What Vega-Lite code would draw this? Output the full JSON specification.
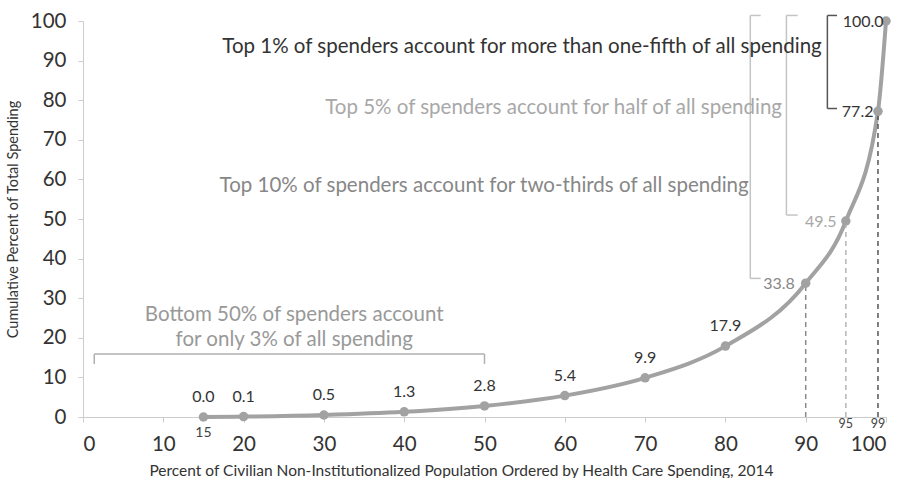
{
  "$schema": "https://vega.github.io/schema/vega-lite/v6.json",
  "width": 803,
  "height": 396,
  "autosize": "none",
  "padding": {"left": 83, "top": 21, "right": 18, "bottom": 61},
  "background": "white",
  "config": {
    "font": "Lato",
    "view": {"stroke": null},
    "axis": {
      "grid": false,
      "domainColor": "#cccccc",
      "tickColor": "#cccccc",
      "tickSize": 5,
      "labelColor": "#333333",
      "labelFontSize": 20.5,
      "labelOverlap": false,
      "titleColor": "#333333",
      "titleFontSize": 14.5,
      "titleFontWeight": "normal"
    }
  },
  "datasets": {
    "curve": [
      {"x": 15, "y": 0.0, "lab": "0.0"},
      {"x": 20, "y": 0.1, "lab": "0.1"},
      {"x": 30, "y": 0.5, "lab": "0.5"},
      {"x": 40, "y": 1.3, "lab": "1.3"},
      {"x": 50, "y": 2.8, "lab": "2.8"},
      {"x": 60, "y": 5.4, "lab": "5.4"},
      {"x": 70, "y": 9.9, "lab": "9.9"},
      {"x": 80, "y": 17.9, "lab": "17.9"},
      {"x": 90, "y": 33.8, "lab": "33.8"},
      {"x": 95, "y": 49.5, "lab": "49.5"},
      {"x": 99, "y": 77.2, "lab": "77.2"},
      {"x": 100, "y": 100.0, "lab": "100.0"}
    ],
    "drops": [
      {"x": 90, "y": 0, "y2": 33.8, "grp": "d90"},
      {"x": 95, "y": 0, "y2": 49.5, "grp": "d95"},
      {"x": 99, "y": 0, "y2": 77.2, "grp": "d99"}
    ],
    "brackets": [
      {"x": 92.7, "x2": 92.7, "y": 77.9, "y2": 101.4, "grp": "top1"},
      {"x": 92.7, "x2": 93.9, "y": 101.4, "y2": 101.4, "grp": "top1"},
      {"x": 92.7, "x2": 93.9, "y": 77.9, "y2": 77.9, "grp": "top1"},
      {"x": 87.6, "x2": 87.6, "y": 51.0, "y2": 101.4, "grp": "top5"},
      {"x": 87.6, "x2": 89.0, "y": 101.4, "y2": 101.4, "grp": "top5"},
      {"x": 87.6, "x2": 89.0, "y": 51.0, "y2": 51.0, "grp": "top5"},
      {"x": 83.1, "x2": 83.1, "y": 35.0, "y2": 101.4, "grp": "top10"},
      {"x": 83.1, "x2": 84.4, "y": 101.4, "y2": 101.4, "grp": "top10"},
      {"x": 83.1, "x2": 84.4, "y": 35.0, "y2": 35.0, "grp": "top10"},
      {"x": 1.4, "x2": 50, "y": 15.9, "y2": 15.9, "grp": "bottom"},
      {"x": 1.4, "x2": 1.4, "y": 13.4, "y2": 15.9, "grp": "bottom"},
      {"x": 50, "x2": 50, "y": 13.4, "y2": 15.9, "grp": "bottom"}
    ],
    "blabels": [
      {"x": 94.6, "y": 100.0, "label": "100.0", "grp": "top1"},
      {"x": 94.5, "y": 77.2, "label": "77.2", "grp": "top1"},
      {"x": 89.9, "y": 49.5, "label": "49.5", "grp": "top5"},
      {"x": 84.7, "y": 33.8, "label": "33.8", "grp": "top10"}
    ],
    "notes": [
      {"x": 92.0, "y": 93.4, "label": "Top 1% of spenders account for more than one-fifth of all spending", "grp": "top1"},
      {"x": 87.05, "y": 78.0, "label": "Top 5% of spenders account for half of all spending", "grp": "top5"},
      {"x": 82.9, "y": 58.3, "label": "Top 10% of spenders account for two-thirds of all spending", "grp": "top10"}
    ],
    "bnotes": [
      {"x": 26.3, "y": 25.7, "label": "Bottom 50% of spenders account"},
      {"x": 26.3, "y": 19.4, "label": "for only 3% of all spending"}
    ],
    "xlabs15": [{"x": 15, "y": 0, "label": "15"}],
    "xlabsTop": [{"x": 95, "y": 0, "label": "95"}, {"x": 99, "y": 0, "label": "99"}]
  },
  "layer": [
    {
      "data": {"name": "curve"},
      "mark": {"type": "line", "interpolate": "monotone", "color": "#a2a2a2", "strokeWidth": 4},
      "encoding": {
        "x": {
          "field": "x", "type": "quantitative",
          "scale": {"domain": [0, 100], "nice": false},
          "axis": {
            "values": [0, 10, 20, 30, 40, 50, 60, 70, 80, 90, 100],
            "labelOverlap": false,
            "labelPadding": 12,
            "title": "Percent of Civilian Non-Institutionalized Population Ordered by Health Care Spending, 2014",
            "titleFontSize": 15.5,
            "titlePadding": 9,
            "titleX": 378
          }
        },
        "y": {
          "field": "y", "type": "quantitative",
          "scale": {"domain": [0, 100], "nice": false},
          "axis": {
            "values": [0, 10, 20, 30, 40, 50, 60, 70, 80, 90, 100],
            "tickCount": 11,
            "labelOverlap": false,
            "labelPadding": 12,
            "title": "Cumulative Percent of Total Spending",
            "titlePadding": 10
          }
        }
      }
    },
    {
      "data": {"name": "drops"},
      "mark": {"type": "rule", "strokeDash": [5, 4], "strokeWidth": 1.5},
      "encoding": {
        "x": {"field": "x", "type": "quantitative"},
        "y": {"field": "y", "type": "quantitative"},
        "y2": {"field": "y2"},
        "stroke": {
          "field": "grp", "type": "nominal", "legend": null,
          "scale": {"domain": ["d90", "d95", "d99", "top1", "top5", "top10", "bottom"], "range": ["#8a8a8a", "#b5b5b5", "#555555", "#555555", "#c4c4c4", "#c4c4c4", "#b0b0b0"]}
        }
      }
    },
    {
      "data": {"name": "curve"},
      "mark": {"type": "point", "filled": true, "opacity": 1, "size": 90, "color": "#a2a2a2"},
      "encoding": {
        "x": {"field": "x", "type": "quantitative"},
        "y": {"field": "y", "type": "quantitative"}
      }
    },
    {
      "data": {"name": "brackets"},
      "mark": {"type": "rule", "strokeWidth": 1.5},
      "encoding": {
        "x": {"field": "x", "type": "quantitative"},
        "x2": {"field": "x2"},
        "y": {"field": "y", "type": "quantitative"},
        "y2": {"field": "y2"},
        "stroke": {"field": "grp", "type": "nominal", "legend": null}
      }
    },
    {
      "data": {"name": "curve"},
      "transform": [{"filter": "datum.x <= 80"}],
      "mark": {"type": "text", "fontSize": 16, "color": "#333333", "baseline": "middle", "dy": -20},
      "encoding": {
        "x": {"field": "x", "type": "quantitative"},
        "y": {"field": "y", "type": "quantitative"},
        "text": {"field": "lab"}
      }
    },
    {
      "data": {"name": "blabels"},
      "mark": {"type": "text", "fontSize": 16, "align": "left", "baseline": "middle", "dy": 1},
      "encoding": {
        "x": {"field": "x", "type": "quantitative"},
        "y": {"field": "y", "type": "quantitative"},
        "text": {"field": "label"},
        "fill": {
          "field": "grp", "type": "nominal", "legend": null,
          "scale": {"domain": ["top1", "top5", "top10", "bottom"], "range": ["#333333", "#a8a8a8", "#878787", "#999999"]}
        }
      }
    },
    {
      "data": {"name": "notes"},
      "mark": {"type": "text", "fontSize": 20.5, "align": "right", "baseline": "middle"},
      "encoding": {
        "x": {"field": "x", "type": "quantitative"},
        "y": {"field": "y", "type": "quantitative"},
        "text": {"field": "label"},
        "fill": {"field": "grp", "type": "nominal", "legend": null}
      }
    },
    {
      "data": {"name": "bnotes"},
      "mark": {"type": "text", "fontSize": 20.5, "align": "center", "baseline": "middle", "color": "#999999"},
      "encoding": {
        "x": {"field": "x", "type": "quantitative"},
        "y": {"field": "y", "type": "quantitative"},
        "text": {"field": "label"}
      }
    },
    {
      "data": {"name": "xlabs15"},
      "mark": {"type": "text", "fontSize": 14, "align": "center", "baseline": "middle", "color": "#444444", "dy": 16},
      "encoding": {
        "x": {"field": "x", "type": "quantitative"},
        "y": {"field": "y", "type": "quantitative"},
        "text": {"field": "label"}
      }
    },
    {
      "data": {"name": "xlabsTop"},
      "mark": {"type": "text", "fontSize": 12.5, "align": "center", "baseline": "middle", "color": "#444444", "dy": 7},
      "encoding": {
        "x": {"field": "x", "type": "quantitative"},
        "y": {"field": "y", "type": "quantitative"},
        "text": {"field": "label"}
      }
    }
  ]
}
